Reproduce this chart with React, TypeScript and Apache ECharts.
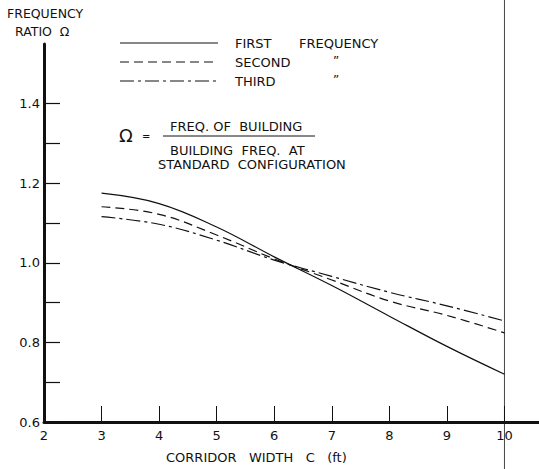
import React, { useEffect, useRef } from "react";
import * as echarts from "echarts";

// Corridor width C (ft) and frequency ratio Ω for the first three modes
const corridorWidth = [3, 4, 5, 6, 7, 8, 9, 10];
const firstFreq = [1.175, 1.149, 1.09, 1.015, 0.943, 0.866, 0.79, 0.72];
const secondFreq = [1.141, 1.122, 1.07, 1.01, 0.957, 0.904, 0.868, 0.824];
const thirdFreq = [1.116, 1.097, 1.057, 1.007, 0.966, 0.926, 0.892, 0.854];

const xTicks = [3, 4, 5, 6, 7, 8, 9, 10];
const xLabels = [2, 3, 4, 5, 6, 7, 8, 9, 10];
const yTicks = [0.6, 0.7, 0.8, 0.9, 1.0, 1.1, 1.2, 1.3, 1.4];
const yLabels = [0.6, 0.8, 1.0, 1.2, 1.4];

const seriesNames = ["FIRST", "SECOND", "THIRD"];
const INK = "#111";
const FONT = "'DejaVu Sans', 'Liberation Sans', sans-serif";

const toPairs = (ys: number[]) => corridorWidth.map((x, i) => [x, ys[i]]);

export default function App() {
  const ref = useRef<HTMLDivElement>(null);

  useEffect(() => {
    if (!ref.current) return;
    const chart = echarts.init(ref.current, undefined, { renderer: "svg" });
    const dashes: (string | number[])[] = ["solid", [9, 5], [14, 4, 3, 4]];
    const values = [firstFreq, secondFreq, thirdFreq];

    const label = (text: string, x: number, y: number, size = 13) => ({
      type: "text",
      x,
      y,
      style: {
        text,
        fill: INK,
        font: `${size}px ${FONT}`,
        textVerticalAlign: "middle",
      },
    });

    const legendY = [43, 62, 81];
    const legendGraphics: any[] = [];
    seriesNames.forEach((name, i) => {
      legendGraphics.push({
        type: "line",
        shape: { x1: 120, y1: legendY[i], x2: 218, y2: legendY[i] },
        style: { stroke: INK, lineWidth: 1.2, lineDash: i === 0 ? null : dashes[i] },
      });
      legendGraphics.push(label(name, 235, legendY[i]));
      legendGraphics.push(
        i === 0 ? label("FREQUENCY", 299, legendY[i]) : label("\u201D", 333, legendY[i] - 1, 12)
      );
    });

    chart.setOption({
      animation: false,
      backgroundColor: "#fff",
      grid: { left: 44, right: 0, top: 44, bottom: 47, containLabel: false },
      xAxis: {
        type: "value",
        min: 2,
        max: 10.6,
        axisLine: { lineStyle: { color: INK, width: 3 } },
        axisTick: {
          customValues: xTicks,
          inside: true,
          length: 16,
          lineStyle: { color: INK, width: 1 },
        },
        axisLabel: {
          customValues: xLabels,
          color: INK,
          fontSize: 13,
          fontFamily: FONT,
          margin: 7,
        },
        splitLine: { show: false },
      },
      yAxis: {
        type: "value",
        min: 0.6,
        max: 1.55,
        axisLine: { show: true, lineStyle: { color: INK, width: 3 } },
        axisTick: {
          show: true,
          customValues: yTicks,
          inside: true,
          length: 16,
          lineStyle: { color: INK, width: 1.2 },
        },
        axisLabel: {
          customValues: yLabels,
          color: INK,
          fontSize: 13,
          fontFamily: FONT,
          margin: 4,
          formatter: (v: number) => v.toFixed(1),
        },
        splitLine: { show: false },
      },
      series: values.map((ys, i) => ({
        type: "line",
        name: seriesNames[i],
        data: toPairs(ys),
        smooth: 0.4,
        symbol: "none",
        lineStyle: { color: INK, width: 1.2, type: dashes[i] },
      })),
      graphic: [
        label("FREQUENCY", 7, 13, 12.5),
        label("RATIO  \u03A9", 15, 31, 12.5),
        ...legendGraphics,
        label("\u03A9", 119, 135, 18),
        label("=", 142, 136, 10),
        label("FREQ. OF  BUILDING", 170, 126),
        {
          type: "line",
          shape: { x1: 163, y1: 136, x2: 315, y2: 136 },
          style: { stroke: INK, lineWidth: 1 },
        },
        label("BUILDING  FREQ.  AT", 170, 150),
        label("STANDARD  CONFIGURATION", 158, 164),
        label("CORRIDOR   WIDTH   C   (ft)", 166, 457),
      ],
    });

    // thin vertical rule through x = 10 across the full sheet
    const px = chart.convertToPixel({ xAxisIndex: 0 }, 10) as number;
    chart.setOption({
      graphic: [
        {
          id: "rule",
          type: "line",
          shape: { x1: px, y1: 0, x2: px, y2: 469 },
          style: { stroke: "#444", lineWidth: 1 },
        },
      ],
    });

    return () => chart.dispose();
  }, []);

  return (
    <div
      ref={ref}
      style={{ position: "fixed", left: 0, top: 0, width: 539, height: 469 }}
    />
  );
}
